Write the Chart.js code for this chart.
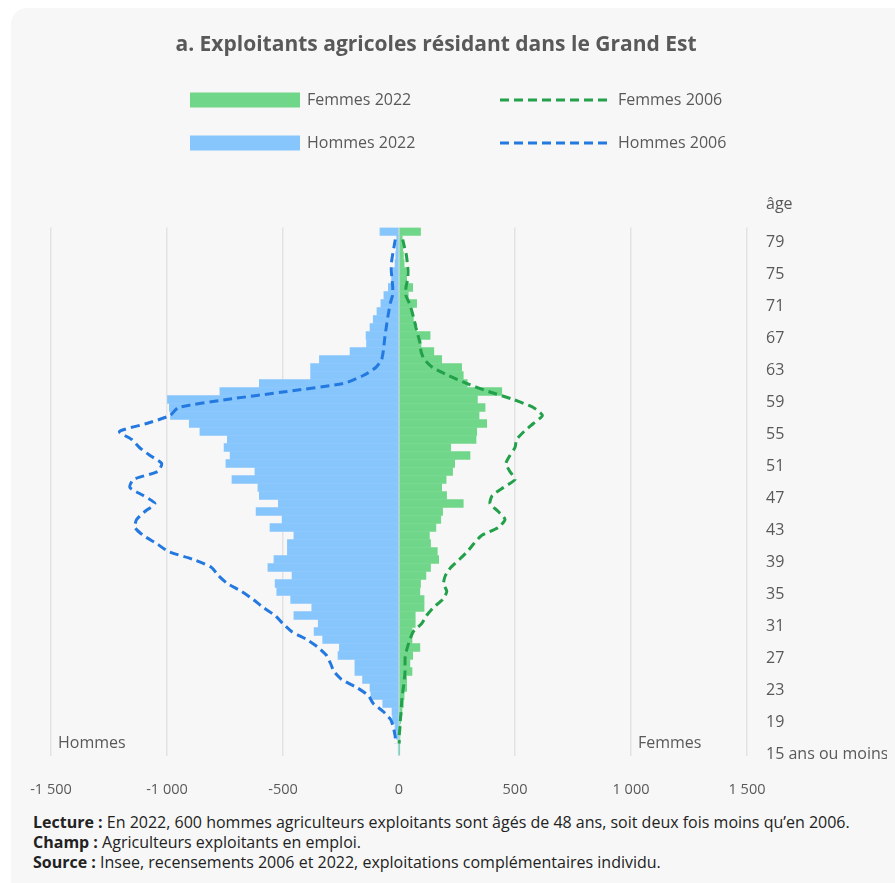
<!DOCTYPE html>
<html lang="fr">
<head>
<meta charset="utf-8">
<script src="https://cdn.jsdelivr.net/npm/chart.js@4.4.1/dist/chart.umd.min.js"></script>
<style>
  html, body { margin: 0; padding: 0; background: #ffffff; overflow: hidden; }
  body { width: 895px; height: 883px; position: relative; font-family: "Open Sans", sans-serif; }
  #card { position: absolute; left: 11px; top: 8px; width: 910px; height: 900px; background: #f7f7f7; border-radius: 16px; }
  #wrap { position: absolute; left: 0; top: 0; width: 895px; height: 805px; }
  #notes { position: absolute; left: 33px; top: 812px; font-size: 16px; line-height: 20px; color: #222; }
  #notes b { font-weight: 700; }
</style>
</head>
<body>
<div id="card"></div>
<div id="wrap"><canvas id="pyramide" width="895" height="805"></canvas></div>
<div id="notes">
  <div><b>Lecture :</b> En 2022, 600 hommes agriculteurs exploitants sont âgés de 48 ans, soit deux fois moins qu’en 2006.</div>
  <div><b>Champ :</b> Agriculteurs exploitants en emploi.</div>
  <div><b>Source :</b> Insee, recensements 2006 et 2022, exploitations complémentaires individu.</div>
</div>
<script>
// ages from 80 (top) down to "15 ans ou moins" (bottom)
const ages = [];
for (let a = 80; a >= 16; a--) ages.push(String(a));
ages.push('15 ans ou moins');

// 2022 (men negative)
const hommes2022 = [
  -82, -10, -12, -14, -17, -24, -32, -46, -65, -78,
  -95, -111, -125, -142, -140, -211, -343, -381, -381, -602,
  -772, -998, -990, -985, -904, -858, -740, -754, -728, -746,
  -621, -720, -608, -602, -520, -616, -504, -556, -453, -481,
  -481, -539, -565, -461, -534, -527, -467, -376, -453, -348,
  -366, -329, -257, -263, -190, -190, -157, -125, -121, -70,
  -30, -28, -17, -10, -3, -3
];
const femmes2022 = [
  93, 14, 16, 19, 22, 30, 33, 59, 40, 76,
  56, 62, 76, 134, 95, 150, 184, 270, 277, 294,
  443, 338, 371, 345, 378, 335, 332, 223, 306, 240,
  231, 203, 184, 205, 277, 188, 180, 159, 131, 136,
  165, 171, 136, 116, 93, 90, 108, 108, 70, 70,
  56, 56, 90, 59, 47, 56, 33, 33, 22, 19,
  13, 7, 4, 4, 2, 2
];

// 2006 (no value drawn for 80 and 15 ou moins)
const hommes2006 = [
  null, -16, -22, -28, -33, -33, -30, -27, -28, -38,
  -44, -50, -55, -60, -64, -68, -75, -100, -154, -240,
  -484, -743, -951, -987, -1088, -1205, -1152, -1119, -1073, -1023,
  -1040, -1145, -1160, -1102, -1052, -1095, -1131, -1138, -1102, -1045,
  -994, -886, -808, -779, -740, -678, -628, -585, -534, -501,
  -463, -398, -348, -312, -295, -280, -247, -182, -132, -111,
  -68, -36, -24, -17, -13, null
];
const femmes2006 = [
  null, 16, 24, 32, 36, 39, 37, 30, 30, 45,
  56, 65, 73, 82, 91, 95, 109, 145, 213, 292,
  385, 493, 579, 618, 579, 539, 507, 500, 478, 461,
  478, 500, 450, 402, 392, 428, 457, 428, 356, 323,
  295, 260, 223, 200, 192, 206, 188, 148, 119, 98,
  62, 47, 36, 27, 26, 26, 23, 19, 14, 11,
  9, 6, 4, 1, 1, null
];

const xTicks = [-1500, -1000, -500, 0, 500, 1000, 1500];

const grey = '#595959';
const font = '"Open Sans", sans-serif';

function fmt(v) {
  return String(v).replace(/\B(?=(\d{3})+(?!\d))/g, ' ');
}

// title, legend and side labels
const decor = {
  id: 'decor',
  afterDraw(chart) {
    const ctx = chart.ctx;
    const ca = chart.chartArea;
    const ds = chart.data.datasets;
    ctx.save();
    ctx.fillStyle = grey;
    ctx.textBaseline = 'middle';
    ctx.textAlign = 'center';
    ctx.font = 'bold 21px ' + font;
    ctx.fillText('a. Exploitants agricoles résidant dans le Grand Est', 436, 45);

    ctx.textAlign = 'left';
    ctx.font = '16px ' + font;
    const items = [
      { d: ds[2], x: 190, y: 100, bar: true },
      { d: ds[0], x: 500, y: 100, bar: false },
      { d: ds[3], x: 190, y: 143, bar: true },
      { d: ds[1], x: 500, y: 143, bar: false }
    ];
    items.forEach(it => {
      if (it.bar) {
        ctx.fillStyle = it.d.backgroundColor;
        ctx.fillRect(it.x, it.y - 7.5, 110, 15);
      } else {
        ctx.strokeStyle = it.d.borderColor;
        ctx.lineWidth = 3;
        ctx.setLineDash(it.d.borderDash);
        ctx.beginPath();
        ctx.moveTo(it.x, it.y);
        ctx.lineTo(it.x + 108, it.y);
        ctx.stroke();
        ctx.setLineDash([]);
      }
      ctx.fillStyle = grey;
      ctx.fillText(it.d.label, it.x + (it.bar ? 117 : 118), it.y);
    });

    ctx.fillText('âge', ca.right + 19, 204);
    ctx.fillText('Hommes', ca.left + 7, ca.bottom - 12);
    ctx.fillText('Femmes', 638, ca.bottom - 12);
    ctx.restore();
  }
};

new Chart(document.getElementById('pyramide'), {
  type: 'bar',
  data: {
    labels: ages,
    datasets: [
      {
        type: 'line',
        label: 'Femmes 2006',
        data: femmes2006,
        borderColor: '#22a04a',
        borderWidth: 3,
        borderDash: [9, 5],
        pointRadius: 0,
        tension: 0.2,
        fill: false,
        order: 1,
      },
      {
        type: 'line',
        label: 'Hommes 2006',
        data: hommes2006,
        borderColor: '#2479e0',
        borderWidth: 3,
        borderDash: [9, 5],
        pointRadius: 0,
        tension: 0.2,
        fill: false,
        order: 1,
      },
      {
        label: 'Femmes 2022',
        data: femmes2022,
        backgroundColor: '#70d68a',
        borderWidth: 0,
        grouped: false,
        barPercentage: 1,
        categoryPercentage: 1,
        order: 2,
      },
      {
        label: 'Hommes 2022',
        data: hommes2022,
        backgroundColor: '#87c5fd',
        borderWidth: 0,
        grouped: false,
        barPercentage: 1,
        categoryPercentage: 1,
        order: 2,
      },
    ],
  },
  options: {
    indexAxis: 'y',
    responsive: false,
    animation: false,
    layout: { padding: { left: 51, right: 8, top: 227.5, bottom: 8 } },
    scales: {
      x: {
        min: -1500,
        max: 1500,
        afterBuildTicks: (axis) => { axis.ticks = xTicks.map(v => ({ value: v })); },
        afterFit: (axis) => { axis.height = 41.5; },
        grid: { color: '#e3e3e3', lineWidth: 1.5, drawTicks: false },
        border: { display: false },
        ticks: {
          padding: 26,
          color: grey,
          font: { family: font, size: 14.5 },
          maxRotation: 0,
          callback: (v) => fmt(v),
        },
      },
      y: {
        position: 'right',
        afterFit: (axis) => { axis.width = 140; },
        grid: { display: false, drawTicks: false },
        border: { display: false },
        ticks: {
          autoSkip: false,
          padding: 19,
          labelOffset: 3,
          color: grey,
          font: { family: font, size: 16 },
          callback: (v, i) => (i % 4 === 1 ? ages[i] : ''),
        },
      },
    },
    plugins: {
      legend: { display: false },
      tooltip: { enabled: false },
    },
  },
  plugins: [decor],
});
</script>
</body>
</html>
